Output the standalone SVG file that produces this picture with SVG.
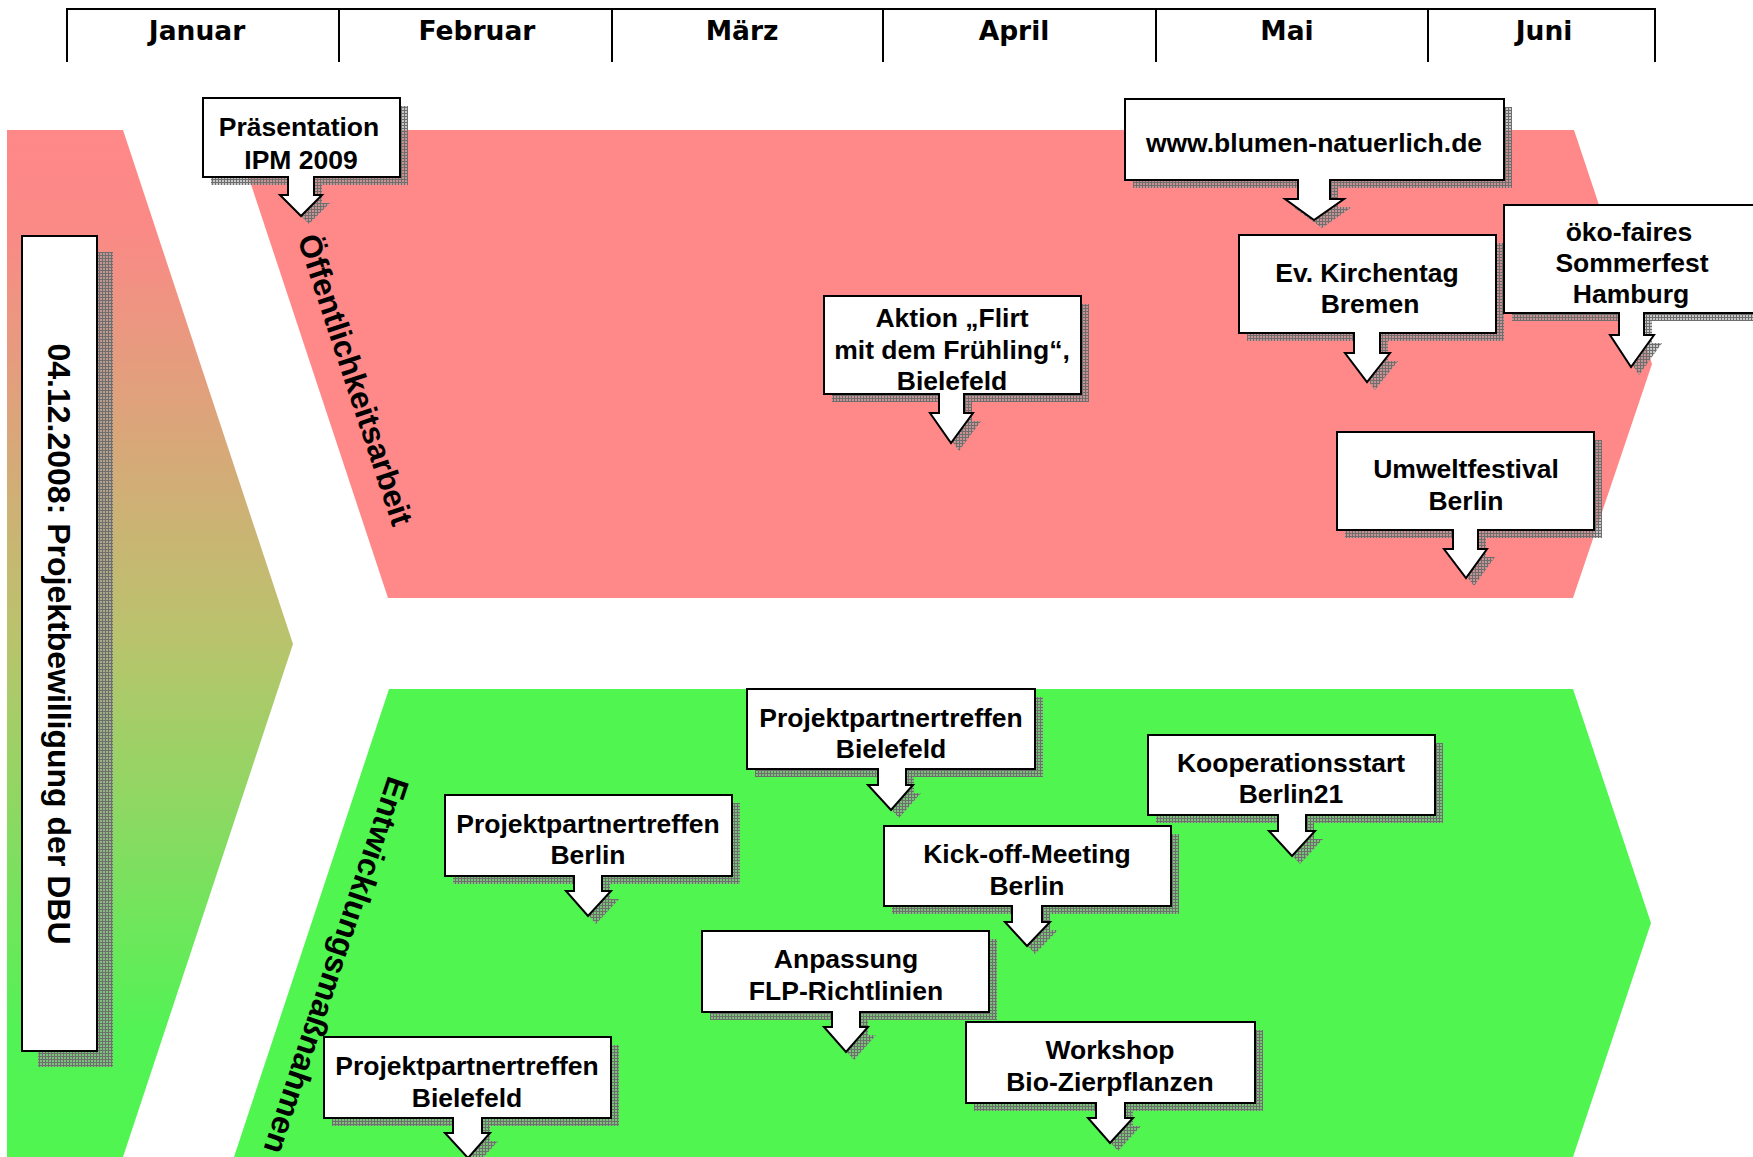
<svg xmlns="http://www.w3.org/2000/svg" xmlns:xlink="http://www.w3.org/1999/xlink" width="1753" height="1157" viewBox="0 0 1753 1157">
<style>
.hdr{font-family:"DejaVu Sans",Verdana,sans-serif;font-weight:bold;font-size:26.5px;text-anchor:middle;fill:#000}
.t{font-family:"Liberation Sans",Arial,sans-serif;font-weight:bold;font-size:26.5px;text-anchor:middle;fill:#000}
.rot{font-family:"Liberation Sans",Arial,sans-serif;font-weight:bold;font-size:31.5px;text-anchor:middle;fill:#000}
.box{fill:#fff;stroke:#000;stroke-width:2;stroke-linejoin:miter}
.shadow{fill:url(#hatch);stroke:none}
.line{stroke:#000;stroke-width:2;fill:none}
</style>
<defs>
<linearGradient id="grad" x1="0" y1="130" x2="0" y2="1157" gradientUnits="userSpaceOnUse">
<stop offset="0" stop-color="#FF8888"/>
<stop offset="0.1" stop-color="#FA8A86"/>
<stop offset="0.5" stop-color="#B8C46C"/>
<stop offset="0.88" stop-color="#52F355"/>
<stop offset="1" stop-color="#50F550"/>
</linearGradient>
<pattern id="hatch" width="3" height="3" patternUnits="userSpaceOnUse">
<rect width="3" height="3" fill="#9a9a9a" fill-opacity="0.55"/>
<path d="M0,0.5H3M0.5,0V3" stroke="#6e6e6e" stroke-width="1"/>
</pattern>
<path id="s1" d="M203,98 H400 V177 H314 V195 H322 L301,216 L280,195 H288 V177 H203 Z"/>
<path id="s2" d="M1125,99 H1504 V180 H1330 V199 H1344 L1314,220 L1285,199 H1298 V180 H1125 Z"/>
<path id="s3" d="M1239,235 H1496 V333 H1380 V353 H1390 L1367,382 L1345,353 H1354 V333 H1239 Z"/>
<path id="s4" d="M1504,205 H1760 V313 H1644 V335 H1654 L1631,367 L1610,335 H1619 V313 H1504 Z"/>
<path id="s5" d="M824,296 H1081 V394 H964 V413 H973 L951,443 L930,413 H939 V394 H824 Z"/>
<path id="s6" d="M1337,432 H1594 V530 H1478 V549 H1487 L1466,578 L1444,549 H1453 V530 H1337 Z"/>
<path id="s7" d="M747,689 H1035 V769 H906 V785 H913 L891,810 L868,785 H878 V769 H747 Z"/>
<path id="s8" d="M445,795 H732 V876 H602 V891 H611 L588,916 L566,891 H574 V876 H445 Z"/>
<path id="s9" d="M324,1037 H611 V1118 H482 V1133 H490 L468,1158 L445,1133 H453 V1118 H324 Z"/>
<path id="s10" d="M702,931 H989 V1012 H860 V1027 H868 L846,1052 L824,1027 H832 V1012 H702 Z"/>
<path id="s11" d="M884,826 H1171 V906 H1042 V922 H1050 L1027,946 L1005,922 H1012 V906 H884 Z"/>
<path id="s12" d="M1148,735 H1435 V815 H1306 V831 H1315 L1292,856 L1269,831 H1278 V815 H1148 Z"/>
<path id="s13" d="M966,1022 H1255 V1103 H1125 V1118 H1133 L1110,1143 L1088,1118 H1096 V1103 H966 Z"/>
</defs>
<rect width="1753" height="1157" fill="#fff"/>
<g id="bands">
<polygon id="start-chevron" points="7,130 123,130 293,644 123,1157 7,1157" fill="url(#grad)"/>
<polygon id="band-oeffentlichkeit" points="233,130 1574,130 1652,364 1573,598 388,598" fill="#FF8888"/>
<polygon id="band-entwicklung" points="389,689 1573,689 1651,923 1573,1157 234,1157" fill="#50F550"/>
</g>
<g id="timeline">
<path class="line" d="M66,9 H1656" stroke-width="3"/>
<path class="line" d="M67,9 V62 M339,9 V62 M612,9 V62 M883,9 V62 M1156,9 V62 M1428,9 V62 M1655,9 V62"/>
<text class="hdr" x="197" y="40">Januar</text>
<text class="hdr" x="477" y="40">Februar</text>
<text class="hdr" x="742" y="40">März</text>
<text class="hdr" x="1014" y="40">April</text>
<text class="hdr" x="1287" y="40">Mai</text>
<text class="hdr" x="1544" y="40">Juni</text>
</g>
<g id="band-labels">
<text class="rot" transform="translate(345,383) rotate(71.7)">Öffentlichkeitsarbeit</text>
<text class="rot" transform="translate(326,962) rotate(108.5)" style="font-size:32px">Entwicklungsmaßnahmen</text>
</g>
<g id="node-dbu">
<rect x="38" y="252" width="75" height="815" class="shadow"/>
<rect x="22" y="236" width="75" height="815" class="box"/>
<text class="t" style="font-size:32px" transform="translate(48,644) rotate(90)">04.12.2008: Projektbewilligung der DBU</text>
</g>
<g id="connectors"></g>
<g id="node-praesentation">
<use xlink:href="#s1" class="shadow" transform="translate(8,8)"/>
<use xlink:href="#s1" class="box"/>
<text class="t" x="299" y="136">Präsentation</text>
<text class="t" x="301" y="169">IPM 2009</text>
</g>
<g id="node-website">
<use xlink:href="#s2" class="shadow" transform="translate(8,8)"/>
<use xlink:href="#s2" class="box"/>
<text class="t" x="1314" y="152">www.blumen-natuerlich.de</text>
</g>
<g id="node-kirchentag">
<use xlink:href="#s3" class="shadow" transform="translate(8,8)"/>
<use xlink:href="#s3" class="box"/>
<text class="t" x="1367" y="282">Ev. Kirchentag</text>
<text class="t" x="1370" y="313">Bremen</text>
</g>
<g id="node-sommerfest">
<use xlink:href="#s4" class="shadow" transform="translate(8,8)"/>
<use xlink:href="#s4" class="box"/>
<text class="t" x="1629" y="241">öko-faires</text>
<text class="t" x="1632" y="272">Sommerfest</text>
<text class="t" x="1631" y="303">Hamburg</text>
</g>
<g id="node-flirt">
<use xlink:href="#s5" class="shadow" transform="translate(8,8)"/>
<use xlink:href="#s5" class="box"/>
<text class="t" x="952" y="327">Aktion „Flirt</text>
<text class="t" x="952" y="359">mit dem Frühling“,</text>
<text class="t" x="952" y="390">Bielefeld</text>
</g>
<g id="node-umweltfestival">
<use xlink:href="#s6" class="shadow" transform="translate(8,8)"/>
<use xlink:href="#s6" class="box"/>
<text class="t" x="1466" y="478">Umweltfestival</text>
<text class="t" x="1466" y="510">Berlin</text>
</g>
<g id="node-ppt-bielefeld-1">
<use xlink:href="#s7" class="shadow" transform="translate(8,8)"/>
<use xlink:href="#s7" class="box"/>
<text class="t" x="891" y="727">Projektpartnertreffen</text>
<text class="t" x="891" y="758">Bielefeld</text>
</g>
<g id="node-ppt-berlin">
<use xlink:href="#s8" class="shadow" transform="translate(8,8)"/>
<use xlink:href="#s8" class="box"/>
<text class="t" x="588" y="833">Projektpartnertreffen</text>
<text class="t" x="588" y="864">Berlin</text>
</g>
<g id="node-ppt-bielefeld-2">
<use xlink:href="#s9" class="shadow" transform="translate(8,8)"/>
<use xlink:href="#s9" class="box"/>
<text class="t" x="467" y="1075">Projektpartnertreffen</text>
<text class="t" x="467" y="1107">Bielefeld</text>
</g>
<g id="node-flp">
<use xlink:href="#s10" class="shadow" transform="translate(8,8)"/>
<use xlink:href="#s10" class="box"/>
<text class="t" x="846" y="968">Anpassung</text>
<text class="t" x="846" y="1000">FLP-Richtlinien</text>
</g>
<g id="node-kickoff">
<use xlink:href="#s11" class="shadow" transform="translate(8,8)"/>
<use xlink:href="#s11" class="box"/>
<text class="t" x="1027" y="863">Kick-off-Meeting</text>
<text class="t" x="1027" y="895">Berlin</text>
</g>
<g id="node-kooperation">
<use xlink:href="#s12" class="shadow" transform="translate(8,8)"/>
<use xlink:href="#s12" class="box"/>
<text class="t" x="1291" y="772">Kooperationsstart</text>
<text class="t" x="1291" y="803">Berlin21</text>
</g>
<g id="node-workshop">
<use xlink:href="#s13" class="shadow" transform="translate(8,8)"/>
<use xlink:href="#s13" class="box"/>
<text class="t" x="1110" y="1059">Workshop</text>
<text class="t" x="1110" y="1091">Bio-Zierpflanzen</text>
</g>
</svg>
